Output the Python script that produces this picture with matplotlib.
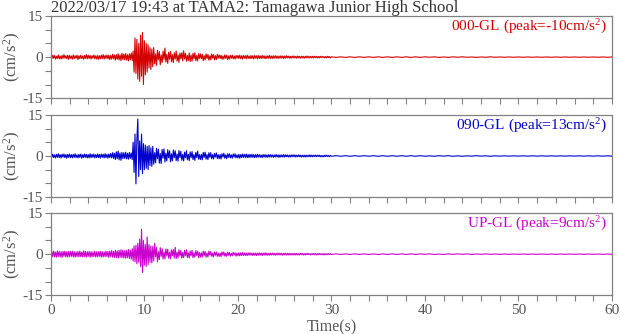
import numpy as np
import matplotlib
matplotlib.use("Agg")
import matplotlib.pyplot as plt
from matplotlib.ticker import MultipleLocator

plt.rcParams['font.family'] = ['Liberation Serif', 'DejaVu Serif']
plt.rcParams['mathtext.fontset'] = 'custom'
plt.rcParams['mathtext.rm'] = 'Liberation Serif'
plt.rcParams['mathtext.it'] = 'Liberation Serif'
plt.rcParams['axes.unicode_minus'] = False

title = "2022/03/17 19:43 at TAMA2: Tamagawa Junior High School"
names = ["000-GL", "090-GL", "UP-GL"]
peaks = ["-10", "13", "9"]
colors = ["#d40000", "#0000cc", "#cc00cc"]

# acceleration (cm/s^2)
# part 1: 0-30 s, every 0.1 s
ns_1 = [
    0.5, -0.6, 0.7, -0.4, 0.6, -0.7, 0.3, -0.5, 0.8, -0.6,
    0.4, -0.7, 0.6, -0.5, 0.9, -0.4, 0.5, -0.6, 0.7, -0.8,
    0.6, -0.5, 0.4, -0.7, 0.8, -0.6, 0.5, -0.4, 0.7, -0.9,
    0.5, -0.6, 0.7, -0.5, 0.4, -0.8, 0.6, -0.5, 0.9, -0.6,
    0.7, -0.5, 0.6, -0.7, 0.5, -0.4, 0.8, -0.6, 0.5, -0.7,
    0.6, -0.8, 0.5, -0.6, 0.7, -0.5, 0.9, -0.7, 0.6, -0.5,
    0.8, -0.6, 0.7, -0.9, 0.6, -0.7, 1.0, -0.6, 0.8, -1.1,
    0.9, -0.8, 1.2, -1.0, 0.8, -1.3, 1.4, -0.9, 1.1, -1.0,
    1.3, -1.1, 0.9, -1.4, 1.2, -1.0, 1.5, -1.3, 2.2, -5.5,
    7.0, -6.0, 6.5, -8.0, 5.0, -8.8, 8.0, -7.0, 9.0, -10.0,
    6.0, -6.5, 5.0, -5.5, 4.5, -4.0, 3.5, -4.5, 3.0, -3.5,
    3.5, -2.5, 1.2, -3.0, 2.5, -1.0, 2.0, -2.8, 0.8, -2.0,
    2.2, -0.9, 3.3, -1.8, 1.0, -2.3, 1.8, -0.8, 2.1, -1.7,
    0.9, -2.0, 1.6, -0.7, 2.2, -1.5, 0.8, -1.9, 1.5, -0.6,
    1.6, -1.4, 2.3, -0.7, 1.4, -1.5, 0.6, -1.3, 1.5, -1.6,
    0.7, -1.5, 1.4, -0.6, 1.6, -1.3, 0.6, -1.4, 1.3, -0.5,
    1.2, -0.6, 1.0, -1.3, 0.5, -1.0, 1.2, -0.5, 1.0, -1.1,
    0.5, -1.0, 1.1, -0.4, 0.9, -1.0, 0.5, -0.9, 1.0, -0.4,
    0.8, -0.5, 0.7, -0.8, 0.4, -0.7, 0.8, -0.4, 0.7, -0.9,
    0.4, -0.7, 0.6, -0.4, 0.7, -0.6, 0.4, -0.7, 0.6, -0.4,
    0.6, -0.5, 0.7, -0.6, 0.5, -0.7, 0.6, -0.4, 0.5, -0.6,
    0.7, -0.5, 0.4, -0.6, 0.6, -0.5, 0.5, -0.7, 0.6, -0.4,
    0.5, -0.6, 0.6, -0.5, 0.4, -0.5, 0.6, -0.4, 0.5, -0.6,
    0.4, -0.5, 0.5, -0.4, 0.6, -0.5, 0.4, -0.5, 0.5, -0.4,
    0.5, -0.4, 0.4, -0.5, 0.4, -0.4, 0.5, -0.4, 0.4, -0.5,
    0.4, -0.4, 0.5, -0.3, 0.4, -0.4, 0.3, -0.4, 0.4, -0.3,
    0.4, -0.3, 0.3, -0.4, 0.4, -0.3, 0.3, -0.4, 0.3, -0.3,
    0.3, -0.4, 0.3, -0.3, 0.4, -0.3, 0.3, -0.3, 0.3, -0.3,
    0.3, -0.3, 0.3, -0.2, 0.3, -0.3, 0.2, -0.3, 0.3, -0.2,
    0.3, -0.2, 0.2, -0.3, 0.2, -0.3, 0.3, -0.2, 0.2, -0.3,
]
ew_1 = [
    0.6, -0.5, 0.7, -0.6, 0.4, -0.7, 0.6, -0.5, 0.8, -0.6,
    0.5, -0.7, 0.6, -0.4, 0.7, -0.6, 0.5, -0.8, 0.6, -0.5,
    0.7, -0.6, 0.5, -0.7, 0.6, -0.5, 0.8, -0.6, 0.4, -0.7,
    0.6, -0.5, 0.7, -0.8, 0.5, -0.6, 0.7, -0.5, 0.6, -0.7,
    0.5, -0.7, 0.8, -0.6, 0.6, -0.5, 0.7, -0.7, 0.5, -0.6,
    0.7, -0.6, 0.6, -0.8, 0.7, -0.5, 0.6, -0.7, 0.8, -0.6,
    0.6, -0.8, 0.7, -0.6, 0.9, -0.7, 1.2, -0.9, 1.0, -1.3,
    1.5, -1.0, 1.8, -1.4, 1.1, -1.6, 1.3, -1.0, 1.2, -0.9,
    1.4, -1.1, 1.0, -1.2, 1.3, -0.9, 1.1, -1.3, 5.0, -6.0,
    8.0, -10.2, 6.0, 13.5, -7.5, 5.5, -5.0, 8.0, -6.5, 4.5,
    -5.0, 4.0, -4.5, 3.5, -5.0, 3.8, -3.5, 3.0, -3.8, 3.5,
    -3.0, 1.2, -2.5, 2.8, -1.0, 2.5, -2.6, 0.9, -2.8, 2.4,
    -0.8, 2.6, -2.2, 1.0, -1.8, 2.3, -0.7, 1.9, -2.1, 0.8,
    -1.8, 2.2, -0.6, 1.9, -1.7, 0.7, -1.9, 2.0, -0.6, 1.7,
    -1.6, 0.6, -1.8, 1.4, -0.7, 1.9, -1.4, 0.6, -1.7, 1.5,
    -0.6, 1.6, -1.3, 0.5, -1.6, 1.3, -0.6, 1.8, -1.2, 0.5,
    -1.3, 0.6, -1.4, 1.3, -0.5, 1.4, -1.2, 0.5, -1.3, 1.2,
    -0.5, 1.2, -1.0, 0.5, -1.1, 0.9, -0.4, 1.1, -0.9, 0.5,
    -1.0, 0.5, -1.1, 0.8, -0.4, 1.0, -0.8, 0.4, -1.0, 0.8,
    -0.5, 0.8, -0.7, 0.4, -0.8, 0.7, -0.4, 0.8, -0.7, 0.4,
    -0.7, 0.6, -0.8, 0.5, -0.6, 0.7, -0.5, 0.6, -0.6, 0.7,
    -0.6, 0.5, -0.6, 0.6, -0.5, 0.6, -0.5, 0.5, -0.6, 0.5,
    -0.5, 0.6, -0.4, 0.5, -0.5, 0.4, -0.6, 0.5, -0.4, 0.5,
    -0.5, 0.4, -0.5, 0.5, -0.4, 0.5, -0.4, 0.4, -0.5, 0.4,
    -0.4, 0.5, -0.4, 0.4, -0.5, 0.4, -0.4, 0.4, -0.4, 0.5,
    -0.4, 0.4, -0.3, 0.4, -0.4, 0.3, -0.4, 0.4, -0.3, 0.4,
    -0.3, 0.4, -0.4, 0.3, -0.3, 0.4, -0.3, 0.3, -0.4, 0.3,
    -0.3, 0.3, -0.4, 0.3, -0.3, 0.3, -0.3, 0.4, -0.3, 0.3,
    -0.3, 0.3, -0.2, 0.3, -0.3, 0.3, -0.2, 0.3, -0.3, 0.2,
    -0.3, 0.2, -0.3, 0.3, -0.2, 0.3, -0.2, 0.2, -0.3, 0.2,
]
ud_1 = [
    -2.0, 1.0, -0.9, 1.1, -1.0, 0.8, -1.1, 1.2, -0.9, 1.0,
    -1.0, 0.9, -1.2, 1.0, -0.8, 1.1, -1.0, 0.9, -1.1, 1.0,
    -0.9, 1.0, -0.8, 1.1, -1.0, 0.9, -1.1, 0.8, -0.9, 1.0,
    -1.0, 1.1, -0.9, 0.8, -1.0, 1.2, -0.9, 1.0, -1.1, 0.9,
    -0.8, 1.0, -1.1, 0.9, -1.0, 0.8, -0.9, 1.1, -1.0, 0.9,
    -1.0, 0.9, -0.8, 1.0, -1.1, 0.9, -1.0, 0.8, -0.9, 1.1,
    -0.9, 1.0, -1.2, 1.1, -0.9, 1.3, -1.1, 1.0, -1.2, 1.4,
    -1.3, 1.2, -1.5, 1.4, -1.2, 1.6, -1.3, 1.5, -1.4, 1.3,
    -1.5, 1.4, -1.3, 1.7, -1.6, 1.5, -1.8, 2.0, -2.5, 3.0,
    -2.8, 3.2, -3.5, 4.0, -3.0, 5.5, -4.5, 9.1, -6.7, 5.0,
    -4.0, 3.5, -4.5, 6.3, -3.8, 3.5, -3.0, 3.0, -3.2, 2.8,
    -2.5, 4.0, -1.0, 2.5, -2.8, 0.9, -2.0, 2.4, -0.8, 2.0,
    -1.8, 0.8, -1.7, 1.9, -0.7, 1.8, -1.5, 0.7, -1.7, 1.6,
    -0.6, 1.7, -1.4, 2.5, -1.6, 0.7, -1.4, 1.6, -0.6, 1.4,
    -1.4, 0.6, -1.3, 1.4, -0.6, 1.6, -1.2, 0.5, -1.4, 1.2,
    -0.6, 1.4, -1.3, 0.5, -1.1, 1.3, -0.5, 1.1, -1.3, 0.6,
    -1.1, 0.5, -1.0, 1.1, -0.5, 1.0, -1.1, 0.4, -1.0, 1.1,
    -0.4, 1.0, -0.8, 0.4, -1.0, 0.8, -0.4, 0.8, -0.8, 0.4,
    -0.8, 0.4, -0.9, 0.8, -0.4, 0.8, -0.7, 0.3, -0.8, 0.7,
    -0.4, 0.6, -0.7, 0.3, -0.6, 0.7, -0.3, 0.5, -0.7, 0.4,
    -0.6, 0.5, -0.6, 0.5, -0.5, 0.6, -0.5, 0.5, -0.5, 0.4,
    -0.5, 0.5, -0.4, 0.5, -0.4, 0.4, -0.5, 0.4, -0.4, 0.4,
    -0.5, 0.4, -0.4, 0.5, -0.4, 0.4, -0.5, 0.4, -0.4, 0.5,
    -0.4, 0.4, -0.4, 0.3, -0.4, 0.4, -0.3, 0.4, -0.3, 0.3,
    -0.4, 0.3, -0.3, 0.4, -0.3, 0.4, -0.3, 0.3, -0.4, 0.3,
    -0.3, 0.4, -0.3, 0.3, -0.3, 0.3, -0.3, 0.3, -0.3, 0.3,
    -0.3, 0.3, -0.3, 0.3, -0.3, 0.2, -0.3, 0.3, -0.2, 0.3,
    -0.3, 0.2, -0.3, 0.3, -0.2, 0.3, -0.2, 0.2, -0.3, 0.2,
    -0.2, 0.3, -0.2, 0.2, -0.3, 0.2, -0.2, 0.3, -0.2, 0.2,
    -0.2, 0.2, -0.3, 0.2, -0.2, 0.2, -0.2, 0.2, -0.2, 0.2,
]
# part 2: 30-60 s, every 0.5 s
ns_2 = [
    0.1, -0.1, 0.1, -0.1, 0.1, -0.1, 0.1, -0.1, 0.1, -0.1,
    0.1, -0.1, 0.1, -0.1, 0.1, -0.1, 0.1, -0.1, 0.1, -0.1,
    0.1, -0.05, 0.1, -0.1, 0.05, -0.1, 0.1, -0.05, 0.1, -0.05,
    0.05, -0.1, 0.05, -0.05, 0.1, -0.05, 0.05, -0.05, 0.05, -0.05,
    0.05, -0.05, 0.05, -0.05, 0.05, -0.05, 0.05, -0.05, 0.05, -0.05,
    0.05, -0.05, 0.05, -0.05, 0.05, -0.05, 0.05, -0.05, 0.05, -0.05, 0.05,
]
ew_2 = [
    -0.1, 0.1, -0.1, 0.1, -0.1, 0.1, -0.1, 0.1, -0.1, 0.1,
    -0.1, 0.1, -0.1, 0.1, -0.1, 0.1, -0.1, 0.1, -0.1, 0.1,
    -0.1, 0.05, -0.1, 0.1, -0.05, 0.1, -0.1, 0.05, -0.1, 0.05,
    -0.05, 0.1, -0.05, 0.05, -0.1, 0.05, -0.05, 0.05, -0.05, 0.05,
    -0.05, 0.05, -0.05, 0.05, -0.05, 0.05, -0.05, 0.05, -0.05, 0.05,
    -0.05, 0.05, -0.05, 0.05, -0.05, 0.05, -0.05, 0.05, -0.05, 0.05, -0.05,
]
ud_2 = [
    -0.1, 0.1, -0.1, 0.1, -0.1, 0.1, -0.1, 0.1, -0.1, 0.1,
    -0.1, 0.1, -0.1, 0.1, -0.1, 0.1, -0.1, 0.1, -0.1, 0.1,
    -0.05, 0.1, -0.1, 0.05, -0.1, 0.1, -0.05, 0.1, -0.05, 0.1,
    -0.1, 0.05, -0.05, 0.1, -0.05, 0.05, -0.05, 0.05, -0.05, 0.05,
    -0.05, 0.05, -0.05, 0.05, -0.05, 0.05, -0.05, 0.05, -0.05, 0.05,
    -0.05, 0.05, -0.05, 0.05, -0.05, 0.05, -0.05, 0.05, -0.05, 0.05, -0.05,
]

traces = [(ns_1, ns_2), (ew_1, ew_2), (ud_1, ud_2)]

fig = plt.figure(figsize=(6.2, 3.34), dpi=100)
gray = "#808080"
tcol = "#555555"
tops = [0.952, 0.656, 0.362]
h = 0.246

for i in range(3):
    ax = fig.add_axes([0.082, tops[i] - h, 0.905, h])
    a1, a2 = traces[i]
    t = np.concatenate([np.arange(len(a1)) * 0.1,
                        30 + np.arange(len(a2)) * 0.5])
    y = np.concatenate([a1, a2])
    ax.plot(t, y, color=colors[i], lw=0.8)
    ax.set_xlim(0, 60)
    ax.set_ylim(-15, 15)
    ax.set_yticks([-15, 0, 15])
    ax.yaxis.set_minor_locator(MultipleLocator(5))
    ax.xaxis.set_major_locator(MultipleLocator(10))
    ax.xaxis.set_minor_locator(MultipleLocator(2))
    ax.tick_params(which='both', direction='out', length=4, width=0.8,
                   color=gray, labelcolor=tcol, labelsize=11, pad=2)
    for s in ax.spines.values():
        s.set_color(gray)
        s.set_linewidth(0.9)
    ax.set_ylabel("(cm/s$^2$)", color=tcol, fontsize=12)
    ax.yaxis.set_label_coords(-0.05, 0.5)
    ax.text(0.991, 0.82, f"{names[i]} (peak={peaks[i]}cm/s$^2$)",
            transform=ax.transAxes, ha='right', va='baseline',
            color=colors[i], fontsize=11)
    if i < 2:
        ax.tick_params(axis='x', labelbottom=False)
    else:
        ax.set_xlabel("Time(s)", color=tcol, fontsize=11.5, labelpad=2)
    if i == 0:
        ax.text(0.0, 1.05, title, transform=ax.transAxes, ha='left',
                va='baseline', color="#333333", fontsize=12)

fig.savefig("out.png", dpi=100)
